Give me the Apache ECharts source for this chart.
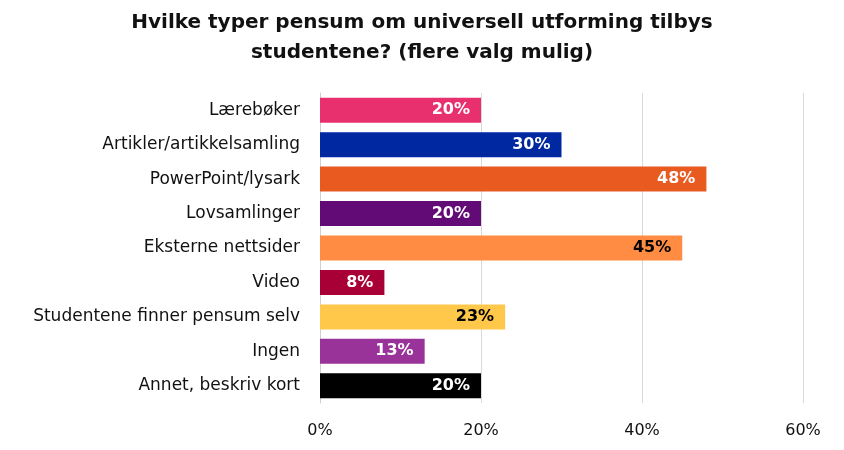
<!DOCTYPE html>
<html>
<head>
<meta charset="utf-8">
<script src="https://cdn.jsdelivr.net/npm/echarts@6/dist/echarts.min.js"></script>
<style>
  html, body { margin: 0; padding: 0; background: #fff; }
  #chart { width: 844px; height: 450px; }
</style>
</head>
<body>
<div id="chart"></div>
<script>
var categories = [
  'Lærebøker',
  'Artikler/artikkelsamling',
  'PowerPoint/lysark',
  'Lovsamlinger',
  'Eksterne nettsider',
  'Video',
  'Studentene finner pensum selv',
  'Ingen',
  'Annet, beskriv kort'
];
var values = [20, 30, 48, 20, 45, 8, 23, 13, 20];
var barColors = ['#E8306F', '#0028A0', '#E85A20', '#620A75', '#FF8C42', '#A80036', '#FFC84A', '#993399', '#000000'];
var labelColors = ['#fff', '#fff', '#fff', '#fff', '#000', '#fff', '#000', '#fff', '#fff'];
var xTicks = [0, 20, 40, 60];

var font = 'DejaVu Sans';
var dom = document.getElementById('chart');
var myChart = echarts.init(dom, null, { renderer: 'canvas' });

var option = {
  backgroundColor: '#ffffff',
  animation: false,
  title: {
    text: 'Hvilke typer pensum om universell utforming tilbys\nstudentene? (flere valg mulig)',
    left: 'center',
    top: 3,
    textStyle: {
      color: '#111',
      fontFamily: font,
      fontWeight: 'bold',
      fontSize: 20,
      lineHeight: 30
    }
  },
  grid: {
    left: 320,
    right: 41,
    top: 93,
    bottom: 47,
    containLabel: false
  },
  xAxis: {
    type: 'value',
    min: xTicks[0],
    max: xTicks[xTicks.length - 1],
    interval: 20,
    axisLine: { show: false },
    axisTick: { show: false },
    splitLine: { lineStyle: { color: '#d9d9d9', width: 1 } },
    axisLabel: {
      margin: 20,
      color: '#111',
      fontFamily: font,
      fontSize: 16,
      formatter: '{value}%'
    }
  },
  yAxis: {
    type: 'category',
    inverse: true,
    data: categories,
    axisLine: { show: true, lineStyle: { color: '#d0d0d0' } },
    axisTick: { show: false },
    axisLabel: {
      margin: 20,
      color: '#111',
      fontFamily: font,
      fontSize: 17
    }
  },
  series: [
    {
      type: 'bar',
      barWidth: 25,
      data: values.map(function (v, i) {
        return {
          value: v,
          itemStyle: { color: barColors[i] },
          label: { color: labelColors[i] }
        };
      }),
      label: {
        show: true,
        position: 'insideRight',
        distance: 11,
        formatter: '{c}%',
        fontFamily: font,
        fontWeight: 'bold',
        fontSize: 16
      }
    }
  ]
};

myChart.setOption(option);
window.addEventListener('resize', myChart.resize);
</script>
</body>
</html>
